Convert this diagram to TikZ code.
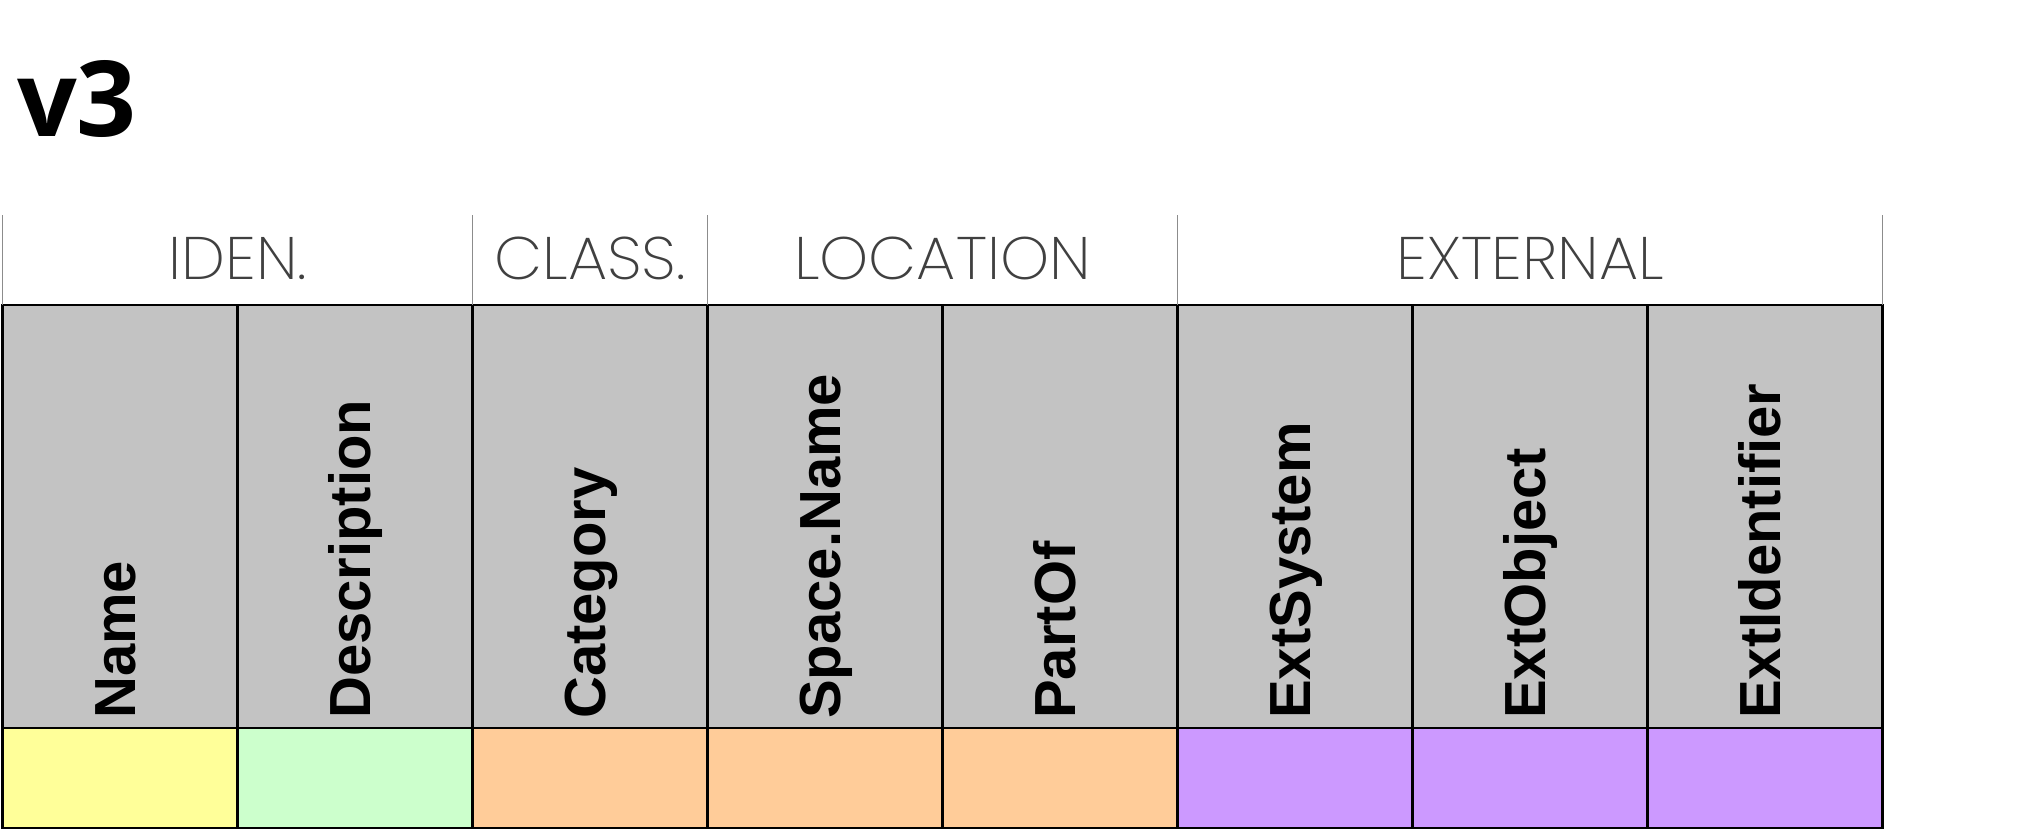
\documentclass[tikz,border=0pt]{standalone}
\usepackage{fontspec}
\setmainfont{Liberation Sans}
\newfontfamily\titlefont{Open Sans}
\IfFontExistsTF{Poppins ExtraLight}{\newfontfamily\hdrfont{Poppins ExtraLight}}{%
  \IfFontExistsTF{Poppins Light}{\newfontfamily\hdrfont{Poppins Light}}{\newfontfamily\hdrfont{Poppins}}}
\definecolor{cgray}{HTML}{C3C3C3}
\definecolor{cyel}{HTML}{FFFF99}
\definecolor{cgrn}{HTML}{CCFFCC}
\definecolor{corg}{HTML}{FFCC99}
\definecolor{cpur}{HTML}{CC99FF}
\definecolor{hdrtext}{HTML}{404040}
\definecolor{hdrline}{HTML}{8C8C8C}
\begin{document}
\begin{tikzpicture}[x=1pt,y=1pt,
  collabel/.style={rotate=90, anchor=west, inner sep=0pt, text height=42pt, text depth=12pt,
    font=\bfseries\fontsize{58}{58}\selectfont, text=black},
  grplabel/.style={anchor=base, inner sep=0pt, text=hdrtext, font=\hdrfont\fontsize{60}{60}\selectfont, xscale=1.04},
  hline/.style={draw=hdrline, line width=1.3pt},
  grid/.style={draw=black, line width=2.5pt}]
\useasboundingbox (0,0) rectangle (2040,-840);
\fill[white] (0,0) rectangle (2040,-840);
% title
\node[anchor=base west, inner sep=0pt, font=\titlefont\bfseries\fontsize{105}{105}\selectfont] (title) at (17,-137) {v3};
% cells
\foreach \i/\col in {0/cyel,1/cgrn,2/corg,3/corg,4/corg,5/cpur,6/cpur,7/cpur}{
  \pgfmathsetmacro\xl{2.6+235*\i}
  \fill[cgray] (\xl,-305) rectangle ++(235,-423);
  \fill[\col] (\xl,-728) rectangle ++(235,-100);
}
% column labels
\foreach \i/\lab in {0/Name,1/Description,2/Category,3/Space.Name,
  4/PartOf,5/ExtSystem,6/ExtObject,7/ExtIdentifier}{
  \pgfmathsetmacro\xc{2.6+235*\i+117.5}
  \node[collabel] (c\i) at (\xc,-719) {\lab};
}
% grid
\draw[grid] (2.6,-305) rectangle (1882.6,-828);
\draw[grid] (2.6,-728) -- (1882.6,-728);
\foreach \i in {1,...,7}{
  \pgfmathsetmacro\xv{2.6+235*\i}
  \draw[grid] (\xv,-305) -- (\xv,-828);
}
% header group lines
\foreach \xv in {2.6,472.6,707.6,1177.6,1882.6}{
  \draw[hline] (\xv,-215) -- (\xv,-305);
}
% header group labels
\node[grplabel] (g1) at (238.0,-279) {IDEN.};
\node[grplabel] (g2) at (590.1,-279) {CLASS.};
\node[grplabel] (g3) at (942.6,-279) {LOCATION};
\node[grplabel] (g4) at (1530.1,-279) {EXTERNAL};
\end{tikzpicture}
\end{document}
